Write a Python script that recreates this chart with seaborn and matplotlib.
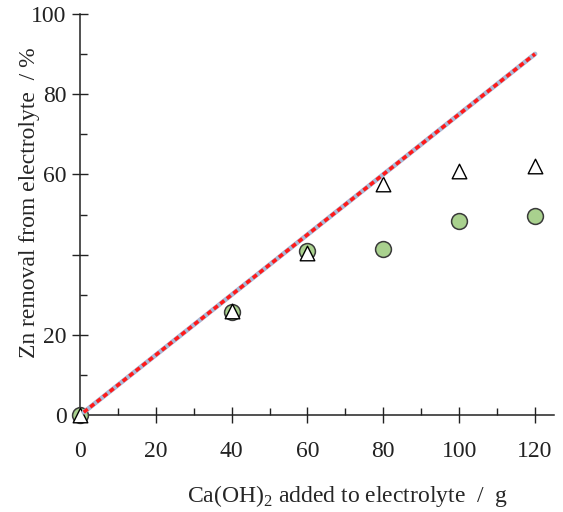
import numpy as np
import pandas as pd
import matplotlib
matplotlib.use("Agg")
import matplotlib.pyplot as plt
import seaborn as sns
from matplotlib.ticker import MultipleLocator

# data
dose = [0, 40, 60, 80, 100, 120]
removal_circle = [0, 25.8, 40.8, 41.5, 48.5, 49.6]
removal_triangle = [0, 26, 40.3, 57.6, 60.8, 62]
line_x = [1, 120]
line_y = [0.75, 90]
y_ticks = [0, 20, 40, 60, 80, 100]
y_tick_labels = ["0", "20", "", "60", "80", "100"]

sns.set_style("ticks")
plt.rcParams["font.family"] = ["Liberation Serif", "DejaVu Serif"]
plt.rcParams["mathtext.fontset"] = "custom"
plt.rcParams["mathtext.rm"] = "Liberation Serif"

df_circ = pd.DataFrame({"dose": dose, "removal": removal_circle})
df_tri = pd.DataFrame({"dose": dose, "removal": removal_triangle})
df_line = pd.DataFrame({"dose": line_x, "removal": line_y})

fig = plt.figure(figsize=(5.63, 5.12), dpi=100)
ax = fig.add_axes([0.142, 0.189, 0.842, 0.784])

# circles first, triangles on top, model line over everything
sns.scatterplot(x="dose", y="removal", data=df_circ, ax=ax, marker="o", s=130,
                color="#a9d18e", edgecolor="#3a3a3a", linewidth=1.1,
                clip_on=False, zorder=3)
sns.scatterplot(x="dose", y="removal", data=df_tri, ax=ax, marker="^", s=110,
                color="white", edgecolor="black", linewidth=1.0,
                clip_on=False, zorder=4)
sns.lineplot(x="dose", y="removal", data=df_line, ax=ax, color="#a9b8d6",
             linewidth=3.4, zorder=5)
sns.lineplot(x="dose", y="removal", data=df_line, ax=ax, color="#ff1a1a",
             linewidth=2.6, linestyle=(0, (1.4, 0.9)), zorder=6)

ax.set_xlim(0, 125)
ax.set_ylim(0, 100)
sns.despine(ax=ax)
for side in ["left", "bottom"]:
    ax.spines[side].set_linewidth(1.1)
    ax.spines[side].set_color("#222222")

ax.xaxis.set_major_locator(MultipleLocator(20))
ax.xaxis.set_minor_locator(MultipleLocator(10))
ax.yaxis.set_minor_locator(MultipleLocator(10))
ax.set_yticks(y_ticks)
ax.set_yticklabels(y_tick_labels)

ax.tick_params(axis="both", which="major", direction="inout", length=11,
               width=1.0, labelsize=17, colors="#222222")
ax.tick_params(axis="both", which="minor", direction="in", length=5, width=1.0,
               colors="#222222")
ax.tick_params(axis="x", which="major", pad=13)
ax.tick_params(axis="y", which="major", pad=4)

ax.set_xlabel(r"Ca(OH)$_2$ added to electrolyte  /  g", fontsize=17,
              labelpad=15, x=0.565)
ax.set_ylabel("Zn removal from electrolyte  / %", fontsize=17,
              labelpad=-6, y=0.53)

plt.savefig("out.png", dpi=100)
